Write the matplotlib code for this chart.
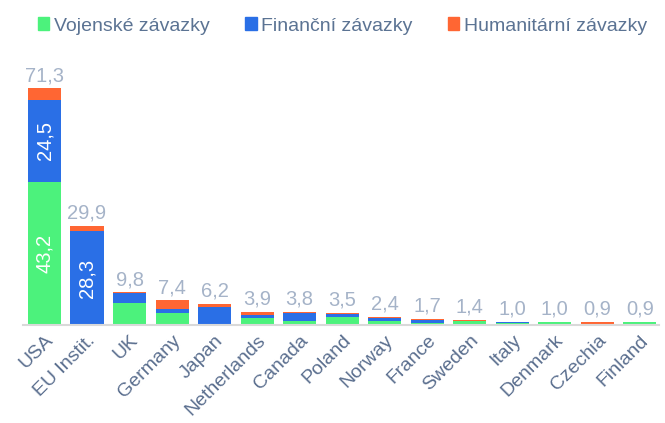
import numpy as np
import matplotlib
matplotlib.use("Agg")
from matplotlib import pyplot as plt
from matplotlib.patches import Patch

countries = ["USA", "EU Instit.", "UK", "Germany", "Japan", "Netherlands", "Canada",
             "Poland", "Norway", "France", "Sweden", "Italy", "Denmark", "Czechia", "Finland"]
military = [43.2, 0.0, 6.6, 3.5, 0.0, 2.2, 1.2, 2.3, 1.2, 0.6, 1.1, 0.6, 0.8, 0.4, 0.8]
financial = [24.5, 28.3, 2.9, 1.2, 5.5, 0.9, 2.3, 0.9, 0.9, 0.8, 0.0, 0.3, 0.0, 0.0, 0.0]
humanitarian = [3.6, 1.6, 0.3, 2.7, 0.7, 0.8, 0.3, 0.3, 0.3, 0.3, 0.3, 0.1, 0.2, 0.5, 0.1]
totals = [71.3, 29.9, 9.8, 7.4, 6.2, 3.9, 3.8, 3.5, 2.4, 1.7, 1.4, 1.0, 1.0, 0.9, 0.9]

labels = ["Vojenské závazky", "Finanční závazky", "Humanitární závazky"]
colors = ["#4cf27c", "#2a6fe6", "#ff6633"]

plt.rcParams['font.family'] = ['Liberation Sans', 'DejaVu Sans']

fig = plt.figure(figsize=(6.65, 4.23), dpi=100)
ax = fig.add_axes([0.035, 0.232, 0.956, 0.588])

x = np.arange(len(countries))
w = 0.78
mil = np.array(military)
fin = np.array(financial)
hum = np.array(humanitarian)
ax.bar(x, mil, w, color=colors[0])
ax.bar(x, fin, w, bottom=mil, color=colors[1])
ax.bar(x, hum, w, bottom=mil + fin, color=colors[2])

# totals above bars
for xi, t, top in zip(x, totals, mil + fin + hum):
    ax.text(xi, top + 1.0, f"{t:.1f}".replace(".", ","), ha="center", va="bottom",
            fontsize=14.5, color="#a5b3c8")

# values inside the big segments
for xi, val, bottom in [(0, military[0], 0), (0, financial[0], military[0]), (1, financial[1], military[1])]:
    ax.text(xi, bottom + val / 2, f"{val:.1f}".replace(".", ","), ha="center", va="center",
            rotation=90, fontsize=14.5, color="white")

ax.set_xlim(-0.5, 14.45)
ax.set_ylim(0, 75)
ax.set_yticks([])
ax.set_xticks(x)
ax.set_xticklabels(countries, rotation=45, ha="right", rotation_mode="anchor",
                   fontsize=14, color="#5b6f8f")
ax.tick_params(axis="x", length=0, pad=5)
for s in ["top", "right", "left"]:
    ax.spines[s].set_visible(False)
ax.spines["bottom"].set_color("#d9d9d9")
ax.spines["bottom"].set_linewidth(1.5)

handles = [Patch(color=c) for c in colors]
leg = fig.legend(handles, labels, loc="upper center", bbox_to_anchor=(0.515, 1.0), ncol=3,
                 frameon=False, fontsize=14, handlelength=0.6, handleheight=0.6,
                 handletextpad=0.25, columnspacing=1.8)
for t in leg.get_texts():
    t.set_color("#5b7393")

fig.savefig("out.png", dpi=100)
